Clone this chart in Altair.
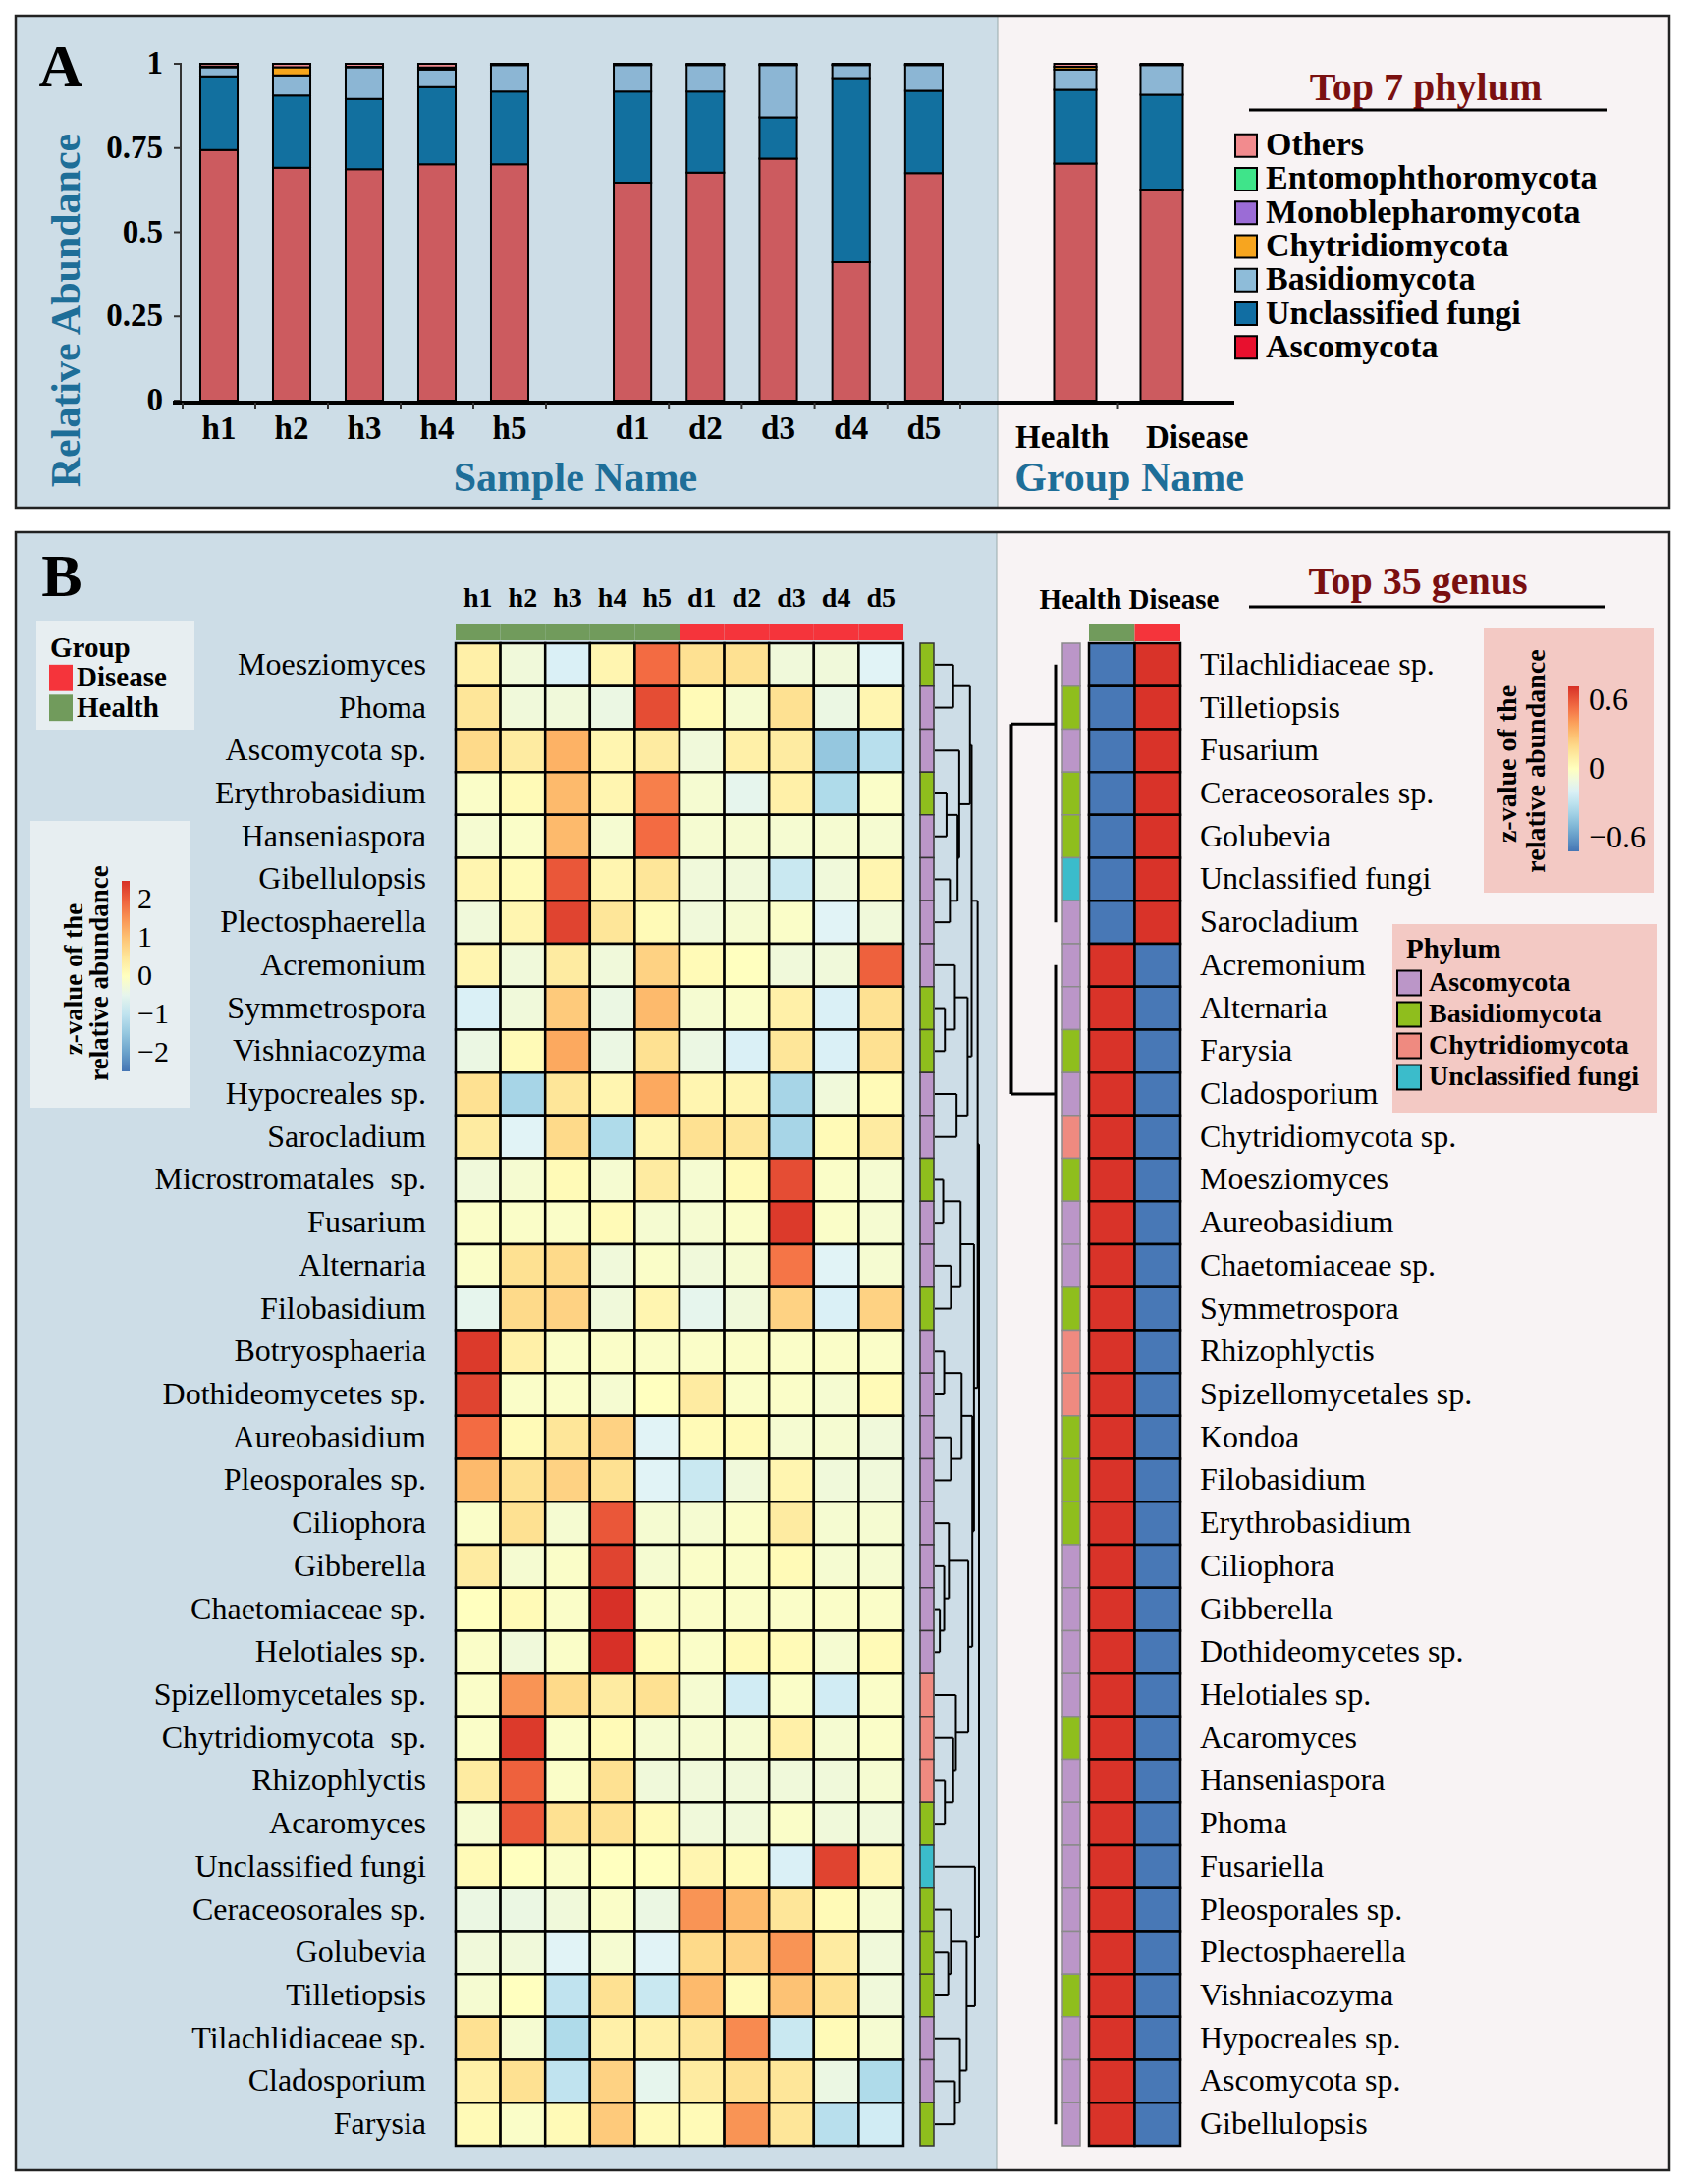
import altair as alt
import pandas as pd

SERIF = "Liberation Serif"
W, H = 1702, 2208


def P(v):
    # reference-page pixel -> canvas pixel (page has an 8px margin)
    return v - 8


# ======================= DATA: panel A =======================
samples_h = ["h1", "h2", "h3", "h4", "h5"]
samples_d = ["d1", "d2", "d3", "d4", "d5"]
groups = ["Health", "Disease"]
stack_phyla = ["Ascomycota", "Unclassified fungi", "Basidiomycota", "Chytridiomycota", "Others"]
bar_colors = ["#cc5b5f", "#12709f", "#8cb6d4", "#f6a51c", "#f08a8f"]

ascomycota_h = [0.744, 0.692, 0.687, 0.702, 0.702]
unclassified_h = [0.219, 0.214, 0.209, 0.229, 0.216]
basidiomycota_h = [0.027, 0.060, 0.094, 0.052, 0.078]
chytridiomycota_h = [0.002, 0.024, 0.001, 0.006, 0.001]
others_h = [0.008, 0.010, 0.009, 0.011, 0.003]

ascomycota_d = [0.647, 0.677, 0.719, 0.411, 0.676]
unclassified_d = [0.271, 0.241, 0.122, 0.547, 0.244]
basidiomycota_d = [0.078, 0.078, 0.155, 0.038, 0.076]
chytridiomycota_d = [0.001, 0.001, 0.001, 0.001, 0.001]
others_d = [0.003, 0.003, 0.003, 0.003, 0.003]

ascomycota_g = [0.704, 0.627]
unclassified_g = [0.219, 0.281]
basidiomycota_g = [0.060, 0.088]
chytridiomycota_g = [0.008, 0.001]
others_g = [0.009, 0.003]

y_ticks = [0, 0.25, 0.5, 0.75, 1]
y_tick_labels = ["0", "0.25", "0.5", "0.75", "1"]

legend7_names = ["Others", "Entomophthoromycota", "Monoblepharomycota", "Chytridiomycota",
                 "Basidiomycota", "Unclassified fungi", "Ascomycota"]
legend7_colors = ["#f28b8e", "#3fe48a", "#9b6cd6", "#f7a51f", "#8ebcd9", "#116ea3", "#e8102e"]

# ======================= DATA: panel B =======================
samples_all = ["h1", "h2", "h3", "h4", "h5", "d1", "d2", "d3", "d4", "d5"]
sample_group = ["Health", "Health", "Health", "Health", "Health",
                "Disease", "Disease", "Disease", "Disease", "Disease"]

genera_left = ["Moesziomyces", "Phoma", "Ascomycota sp.", "Erythrobasidium", "Hanseniaspora",
               "Gibellulopsis", "Plectosphaerella", "Acremonium", "Symmetrospora", "Vishniacozyma",
               "Hypocreales sp.", "Sarocladium", "Microstromatales\u00a0 sp.", "Fusarium", "Alternaria",
               "Filobasidium", "Botryosphaeria", "Dothideomycetes sp.", "Aureobasidium", "Pleosporales sp.",
               "Ciliophora", "Gibberella", "Chaetomiaceae sp.", "Helotiales sp.", "Spizellomycetales sp.",
               "Chytridiomycota\u00a0 sp.", "Rhizophlyctis", "Acaromyces", "Unclassified fungi",
               "Ceraceosorales sp.", "Golubevia", "Tilletiopsis", "Tilachlidiaceae sp.", "Cladosporium",
               "Farysia"]

phylum_left = ["Basidiomycota", "Ascomycota", "Ascomycota", "Basidiomycota", "Ascomycota",
               "Ascomycota", "Ascomycota", "Ascomycota", "Basidiomycota", "Basidiomycota",
               "Ascomycota", "Ascomycota", "Basidiomycota", "Ascomycota", "Ascomycota",
               "Basidiomycota", "Ascomycota", "Ascomycota", "Ascomycota", "Ascomycota",
               "Ascomycota", "Ascomycota", "Ascomycota", "Ascomycota", "Chytridiomycota",
               "Chytridiomycota", "Chytridiomycota", "Basidiomycota", "Unclassified fungi",
               "Basidiomycota", "Basidiomycota", "Basidiomycota", "Ascomycota", "Ascomycota",
               "Basidiomycota"]

# z-values, one row per genus (h1..h5, d1..d5)
z_left = [
    [0.3, -0.3, -0.7, 0.2, 1.9, 0.6, 0.6, -0.3, -0.3, -0.6],
    [0.5, -0.3, -0.3, -0.4, 2.2, 0.1, -0.2, 0.6, -0.4, 0.2],
    [0.7, 0.4, 1.2, 0.2, 0.4, -0.3, 0.3, 0.4, -1.5, -1.1],
    [-0.1, 0.1, 1.1, 0.2, 1.7, -0.2, -0.5, 0.3, -1.2, -0.1],
    [-0.2, -0.1, 1.1, -0.2, 1.9, -0.2, -0.2, -0.2, -0.2, -0.2],
    [0.2, 0.1, 2.1, 0.2, 0.5, -0.3, -0.3, -0.9, -0.3, 0.2],
    [-0.3, 0.2, 2.3, 0.5, 0.1, -0.3, -0.2, -0.1, -0.6, -0.3],
    [0.2, -0.3, 0.4, -0.3, 0.8, 0.1, 0.0, -0.3, -0.3, 2.0],
    [-0.7, -0.3, 0.9, -0.4, 1.1, -0.2, -0.1, 0.3, -0.7, 0.6],
    [-0.4, 0.1, 1.3, -0.4, 0.6, -0.4, -0.7, 0.5, -0.7, 0.6],
    [0.6, -1.3, 0.5, 0.2, 1.3, 0.2, 0.2, -1.3, -0.3, 0.1],
    [0.4, -0.6, 0.7, -1.2, 0.2, 0.6, 0.5, -1.3, 0.1, 0.4],
    [-0.3, -0.2, 0.1, -0.2, 0.4, -0.2, 0.1, 2.2, -0.1, -0.2],
    [-0.1, -0.1, -0.1, 0.1, -0.2, -0.2, -0.1, 2.4, -0.1, -0.2],
    [-0.1, 0.6, 0.7, -0.3, -0.1, -0.3, -0.2, 1.8, -0.6, -0.2],
    [-0.5, 0.7, 0.8, -0.3, 0.2, -0.5, -0.3, 0.8, -0.7, 0.8],
    [2.4, 0.3, -0.1, -0.1, -0.1, -0.1, -0.1, -0.1, -0.1, -0.1],
    [2.3, -0.1, -0.1, -0.2, 0.0, 0.4, -0.1, -0.1, -0.2, 0.1],
    [1.9, 0.1, 0.5, 0.8, -0.6, 0.1, 0.1, -0.2, -0.2, -0.3],
    [1.1, 0.6, 0.8, 0.6, -0.6, -0.9, -0.3, 0.2, -0.3, -0.3],
    [-0.1, 0.6, -0.2, 2.1, -0.2, -0.2, -0.1, 0.4, -0.2, -0.2],
    [0.4, -0.2, -0.1, 2.3, -0.2, -0.1, -0.1, 0.1, -0.2, -0.2],
    [0.0, 0.1, -0.1, 2.5, -0.1, -0.1, -0.1, -0.1, -0.1, -0.1],
    [-0.1, -0.3, -0.1, 2.5, 0.1, -0.1, 0.1, 0.1, -0.2, 0.1],
    [-0.1, 1.5, 0.7, 0.4, 0.6, -0.2, -0.8, -0.1, -0.8, -0.1],
    [-0.1, 2.4, -0.1, 0.1, -0.2, -0.2, -0.2, 0.3, -0.2, -0.1],
    [0.4, 2.0, -0.1, 0.6, -0.3, -0.3, -0.3, -0.3, -0.3, -0.2],
    [-0.2, 2.1, 0.6, 0.6, 0.1, -0.3, -0.3, -0.1, -0.3, -0.3],
    [0.1, 0.0, -0.1, 0.0, 0.0, 0.2, 0.1, -0.7, 2.3, 0.2],
    [-0.4, -0.4, -0.3, -0.1, -0.4, 1.5, 1.1, 0.5, 0.1, -0.2],
    [-0.3, -0.3, -0.6, -0.2, -0.6, 0.7, 0.8, 1.5, 0.4, -0.3],
    [-0.2, 0.0, -1.0, 0.6, -0.9, 1.1, 0.1, 1.0, 0.6, -0.3],
    [0.6, -0.2, -1.2, 0.3, 0.3, 0.5, 1.6, -0.9, 0.1, -0.2],
    [0.3, 0.6, -1.0, 0.8, -0.5, 0.4, 0.6, 0.5, -0.4, -1.2],
    [0.1, -0.1, 0.1, 0.9, 0.1, 0.1, 1.5, 0.5, -1.1, -0.8],
]

# row dendrogram (left heatmap): (child a, child b, merge height); leaves 0..34, merges 35..
dendro_left = [
    (0, 1, 55), (3, 4, 35), (5, 6, 45), (36, 37, 68), (2, 38, 73), (35, 39, 105),
    (8, 9, 30), (7, 41, 60), (10, 11, 65), (42, 43, 98), (40, 44, 110),
    (12, 13, 25), (14, 15, 48), (46, 47, 77),
    (16, 17, 28), (18, 19, 48), (49, 50, 80),
    (22, 23, 15), (21, 52, 28), (20, 53, 42),
    (26, 27, 30), (25, 55, 55), (24, 56, 63), (54, 57, 100), (51, 58, 112),
    (48, 59, 117), (45, 60, 128),
    (30, 31, 40), (29, 62, 48), (33, 34, 60), (32, 64, 75), (63, 65, 95), (28, 66, 120),
    (61, 67, 132),
]

genera_right = ["Tilachlidiaceae sp.", "Tilletiopsis", "Fusarium", "Ceraceosorales sp.", "Golubevia",
                "Unclassified fungi", "Sarocladium", "Acremonium", "Alternaria", "Farysia",
                "Cladosporium", "Chytridiomycota sp.", "Moesziomyces", "Aureobasidium",
                "Chaetomiaceae sp.", "Symmetrospora", "Rhizophlyctis", "Spizellomycetales sp.",
                "Kondoa", "Filobasidium", "Erythrobasidium", "Ciliophora", "Gibberella",
                "Dothideomycetes sp.", "Helotiales sp.", "Acaromyces", "Hanseniaspora", "Phoma",
                "Fusariella", "Pleosporales sp.", "Plectosphaerella", "Vishniacozyma",
                "Hypocreales sp.", "Ascomycota sp.", "Gibellulopsis"]

phylum_right = ["Ascomycota", "Basidiomycota", "Ascomycota", "Basidiomycota", "Basidiomycota",
                "Unclassified fungi", "Ascomycota", "Ascomycota", "Ascomycota", "Basidiomycota",
                "Ascomycota", "Chytridiomycota", "Basidiomycota", "Ascomycota", "Ascomycota",
                "Basidiomycota", "Chytridiomycota", "Chytridiomycota", "Basidiomycota",
                "Basidiomycota", "Basidiomycota", "Ascomycota", "Ascomycota", "Ascomycota",
                "Ascomycota", "Basidiomycota", "Ascomycota", "Ascomycota", "Ascomycota",
                "Ascomycota", "Ascomycota", "Basidiomycota", "Ascomycota", "Ascomycota",
                "Ascomycota"]

z_health = [-0.71, -0.71, -0.71, -0.71, -0.71, -0.71, -0.71,
            0.71, 0.71, 0.71, 0.71, 0.71, 0.71, 0.71, 0.71, 0.71, 0.71, 0.71, 0.71, 0.71, 0.71,
            0.71, 0.71, 0.71, 0.71, 0.71, 0.71, 0.71, 0.71, 0.71, 0.71, 0.71, 0.71, 0.71, 0.71]
z_disease = [0.71, 0.71, 0.71, 0.71, 0.71, 0.71, 0.71,
             -0.71, -0.71, -0.71, -0.71, -0.71, -0.71, -0.71, -0.71, -0.71, -0.71, -0.71, -0.71,
             -0.71, -0.71, -0.71, -0.71, -0.71, -0.71, -0.71, -0.71, -0.71, -0.71, -0.71, -0.71,
             -0.71, -0.71, -0.71, -0.71]

# right dendrogram: two clusters (first row, last row, row position where they join)
right_first = [0, 7]
right_last = [6, 34]
right_join = [1.88, 10.5]

phyla4 = ["Ascomycota", "Basidiomycota", "Chytridiomycota", "Unclassified fungi"]
phyla4_colors = ["#bb96c8", "#8fbe1d", "#ef8a80", "#3bbccb"]

heat_colors = ["#4575b4", "#74add1", "#abd9e9", "#e0f3f8", "#ffffbf",
               "#fee090", "#fdae61", "#f46d43", "#d73027"]
heat_stops_left = [-2.5, -1.875, -1.25, -0.625, 0, 0.625, 1.25, 1.875, 2.5]
heat_stops_right = [-0.72, -0.54, -0.36, -0.18, 0, 0.18, 0.36, 0.54, 0.72]

GREEN = "#719b5c"
RED = "#f5343b"
BLUE_BG = "#cddde7"
PINK_BG = "#f8f3f4"
TITLE_BLUE = "#1e6e98"
DARK_RED = "#7a1010"
LEG_BG = "#e7eef1"
LEG_PINK = "#f3c9c4"

# ======================= helpers =======================
one = pd.DataFrame({"k": [0]})


def rect(x1, y1, x2, y2, fill, stroke=None, sw=0):
    kw = dict(fill=fill)
    if stroke:
        kw.update(stroke=stroke, strokeWidth=sw)
    return alt.Chart(one).mark_rect(**kw).encode(
        x=alt.value(P(x1)), x2=alt.value(P(x2)), y=alt.value(P(y1)), y2=alt.value(P(y2)))


def line(x1, y1, x2, y2, color="black", w=2):
    return alt.Chart(one).mark_rule(color=color, strokeWidth=w).encode(
        x=alt.value(P(x1)), x2=alt.value(P(x2)), y=alt.value(P(y1)), y2=alt.value(P(y2)))


def text(s, x, y, size, weight="normal", color="black", align="center",
         baseline="middle", angle=0):
    kw = dict(font=SERIF, fontSize=size, fontWeight=weight, color=color,
              align=align, baseline=baseline)
    if angle:
        kw["angle"] = angle
    return alt.Chart(pd.DataFrame({"t": [s]})).mark_text(**kw).encode(
        x=alt.value(P(x)), y=alt.value(P(y)), text="t:N")


layers = []

# ======================= PANEL A =======================
layers += [
    rect(16, 16, 1700, 517, PINK_BG),
    rect(16, 16, 1016, 517, BLUE_BG),
    line(1016, 16, 1016, 517, "#9aa", 1),
]


def stack_df(names, cols):
    rows = []
    for i, n in enumerate(names):
        for j, (ph, vals) in enumerate(zip(stack_phyla, cols)):
            rows.append({"sample": n, "phylum": ph, "value": vals[i], "ord": j})
    return pd.DataFrame(rows)


ysc_a = alt.Scale(domain=[0, 1], range=[P(408), P(65)], nice=False, zero=True)


def bars(df, domain, rng, pi):
    xs = alt.Scale(domain=domain, range=rng, paddingInner=pi, paddingOuter=pi / 2)
    return alt.Chart(df).mark_bar(stroke="black", strokeWidth=2).encode(
        x=alt.X("sample:N", scale=xs, axis=None),
        y=alt.Y("value:Q", stack="zero", scale=ysc_a, axis=None),
        color=alt.Color("phylum:N", scale=alt.Scale(domain=stack_phyla, range=bar_colors), legend=None),
        order=alt.Order("ord:Q"),
    ), xs


df_h = stack_df(samples_h, [ascomycota_h, unclassified_h, basidiomycota_h, chytridiomycota_h, others_h])
df_d = stack_df(samples_d, [ascomycota_d, unclassified_d, basidiomycota_d, chytridiomycota_d, others_d])
df_g = stack_df(groups, [ascomycota_g, unclassified_g, basidiomycota_g, chytridiomycota_g, others_g])

bh, xs_h = bars(df_h, samples_h, [P(186), P(556)], 0.486)
bd, xs_d = bars(df_d, samples_d, [P(607), P(978)], 0.486)
bg, xs_g = bars(df_g, groups, [P(1051), P(1227)], 0.511)
layers += [bh, bd, bg]

# y axis
df_ticks = pd.DataFrame({"v": y_ticks, "lab": y_tick_labels})
layers += [
    alt.Chart(pd.DataFrame({"a": [0], "b": [1]})).mark_rule(color="#333", strokeWidth=2).encode(
        y=alt.Y("a:Q", scale=ysc_a, axis=None), y2="b:Q", x=alt.value(P(184))),
    alt.Chart(df_ticks).mark_rule(color="#333", strokeWidth=2).encode(
        y=alt.Y("v:Q", scale=ysc_a, axis=None), x=alt.value(P(177)), x2=alt.value(P(185))),
    alt.Chart(df_ticks).mark_text(font=SERIF, fontSize=33, fontWeight="bold", align="right",
                                  baseline="middle").encode(
        y=alt.Y("v:Q", scale=ysc_a, axis=None), x=alt.value(P(166)), text="lab:N"),
    line(176, 410, 1257, 410, "black", 4),
    line(186, 410, 186, 416, "#333", 2),
]

# small category-boundary ticks under the x baseline
for names, xs, off in [(samples_h, xs_h, 18), (samples_d, xs_d, 18), (groups[:1], xs_g, 22)]:
    layers.append(
        alt.Chart(pd.DataFrame({"sample": names})).mark_rule(
            color="#333", strokeWidth=2, xOffset=off).encode(
            x=alt.X("sample:N", scale=xs, axis=None, bandPosition=1),
            y=alt.value(P(410)), y2=alt.value(P(416))))

# x labels
for names, xs in [(samples_h, xs_h), (samples_d, xs_d)]:
    layers.append(
        alt.Chart(pd.DataFrame({"sample": names})).mark_text(
            font=SERIF, fontSize=33, fontWeight="bold", baseline="middle").encode(
            x=alt.X("sample:N", scale=xs, axis=None), y=alt.value(P(437)), text="sample:N"))
layers.append(
    alt.Chart(pd.DataFrame({"sample": groups})).mark_text(
        font=SERIF, fontSize=33, fontWeight="bold", baseline="middle").encode(
        x=alt.X("sample:N", scale=alt.Scale(domain=groups, range=[P(1013), P(1288)],
                                            paddingInner=0, paddingOuter=0), axis=None),
        y=alt.value(P(446)), text="sample:N"))

layers += [
    text("A", 62, 69, 62, "bold"),
    text("Relative Abundance", 68, 316, 42, "bold", TITLE_BLUE, angle=270),
    text("Sample Name", 586, 487, 42, "bold", TITLE_BLUE),
    text("Group Name", 1150, 487, 42, "bold", TITLE_BLUE),
    text("Top 7 phylum", 1452, 102, 40, "bold", DARK_RED, baseline="alphabetic"),
    line(1272, 112, 1637, 112, "black", 3),
]

# Top 7 legend
leg7 = pd.DataFrame({"name": legend7_names})
ys_leg7 = alt.Scale(domain=legend7_names, range=[P(131), P(371)], paddingInner=0.33, paddingOuter=0.165)
layers += [
    alt.Chart(leg7).mark_rect(stroke="black", strokeWidth=2).encode(
        y=alt.Y("name:N", scale=ys_leg7, axis=None), x=alt.value(P(1258)), x2=alt.value(P(1280)),
        fill=alt.Fill("name:N", scale=alt.Scale(domain=legend7_names, range=legend7_colors), legend=None)),
    alt.Chart(leg7).mark_text(font=SERIF, fontSize=34, fontWeight="bold", align="left",
                              baseline="middle").encode(
        y=alt.Y("name:N", scale=ys_leg7, axis=None), x=alt.value(P(1289)), text="name:N"),
]

layers.append(rect(16, 16, 1700, 517, "transparent", "#222", 2.5))

# ======================= PANEL B =======================
layers += [
    rect(16, 542, 1700, 2210, PINK_BG),
    rect(16, 542, 1015, 2210, BLUE_BG),
    line(1015, 542, 1015, 2210, "#9aa", 1),
    text("B", 63, 588, 62, "bold"),
]

# --- left heatmap ---
xs_l = alt.Scale(domain=samples_all, range=[P(464), P(920)], paddingInner=0, paddingOuter=0)
ys_l = alt.Scale(domain=genera_left, range=[P(655), P(2185)], paddingInner=0, paddingOuter=0)
df_left = pd.DataFrame([{"genus": g, "sample": s, "z": z_left[i][j]}
                        for i, g in enumerate(genera_left) for j, s in enumerate(samples_all)])

layers.append(
    alt.Chart(df_left).mark_rect(stroke="black", strokeWidth=2.5).encode(
        x=alt.X("sample:N", scale=xs_l, axis=None),
        y=alt.Y("genus:N", scale=ys_l, axis=None),
        color=alt.Color("z:Q", scale=alt.Scale(domain=heat_stops_left, range=heat_colors,
                                               interpolate="rgb", clamp=True),
                        legend=alt.Legend(orient="none", legendX=P(124), legendY=P(897),
                                          direction="vertical", title=None,
                                          gradientLength=194, gradientThickness=8,
                                          gradientStrokeWidth=0, values=[-2, -1, 0, 1, 2],
                                          labelFont=SERIF, labelFontSize=30, labelColor="black",
                                          labelOverlap=False, labelOffset=8))))

df_samp = pd.DataFrame({"sample": samples_all, "group": sample_group})
layers += [
    alt.Chart(df_samp).mark_rect().encode(
        x=alt.X("sample:N", scale=xs_l, axis=None), y=alt.value(P(635)), y2=alt.value(P(652)),
        fill=alt.Fill("group:N", scale=alt.Scale(domain=groups, range=[GREEN, RED]), legend=None)),
    alt.Chart(df_samp).mark_text(font=SERIF, fontSize=28, fontWeight="bold", baseline="middle").encode(
        x=alt.X("sample:N", scale=xs_l, axis=None), y=alt.value(P(610)), text="sample:N"),
]

df_gl = pd.DataFrame({"genus": genera_left, "phylum": phylum_left})
layers += [
    alt.Chart(df_gl).mark_text(font=SERIF, fontSize=32, align="right", baseline="middle").encode(
        y=alt.Y("genus:N", scale=ys_l, axis=None), x=alt.value(P(434)), text="genus:N"),
    alt.Chart(df_gl).mark_rect(stroke="#333", strokeWidth=1.5).encode(
        y=alt.Y("genus:N", scale=ys_l, axis=None), x=alt.value(P(937)), x2=alt.value(P(951)),
        fill=alt.Fill("phylum:N", scale=alt.Scale(domain=phyla4, range=phyla4_colors), legend=None)),
]

# left dendrogram built from the merge table
pos = {i: i + 0.5 for i in range(len(genera_left))}
hgt = {i: 0 for i in range(len(genera_left))}
segs = []
for k, (a, b, h) in enumerate(dendro_left):
    nid = len(genera_left) + k
    pa, pb = pos[a], pos[b]
    segs.append({"x": hgt[a], "x2": h, "y": pa, "y2": pa})
    segs.append({"x": hgt[b], "x2": h, "y": pb, "y2": pb})
    segs.append({"x": h, "x2": h, "y": pa, "y2": pb})
    pos[nid] = (pa + pb) / 2
    hgt[nid] = h
df_seg = pd.DataFrame(segs)
yrow = alt.Scale(domain=[0, 35], range=[P(655), P(2185)], nice=False, zero=False)
layers.append(
    alt.Chart(df_seg).mark_rule(color="black", strokeWidth=2).encode(
        x=alt.X("x:Q", scale=alt.Scale(domain=[0, 132], range=[P(952), P(997)], nice=False, zero=False),
                axis=None),
        x2="x2:Q",
        y=alt.Y("y:Q", scale=yrow, axis=None), y2="y2:Q"))

# group legend
layers += [
    rect(37, 632, 198, 743, LEG_BG),
    text("Group", 51, 660, 29, "bold", align="left"),
]
grp_leg = ["Disease", "Health"]
ys_grp = alt.Scale(domain=grp_leg, range=[P(675), P(736)], paddingInner=0.12, paddingOuter=0.06)
df_grp = pd.DataFrame({"g": grp_leg})
layers += [
    alt.Chart(df_grp).mark_rect().encode(
        y=alt.Y("g:N", scale=ys_grp, axis=None), x=alt.value(P(50)), x2=alt.value(P(74)),
        fill=alt.Fill("g:N", scale=alt.Scale(domain=grp_leg, range=[RED, GREEN]), legend=None)),
    alt.Chart(df_grp).mark_text(font=SERIF, fontSize=29, fontWeight="bold", align="left",
                                baseline="middle").encode(
        y=alt.Y("g:N", scale=ys_grp, axis=None), x=alt.value(P(78)), text="g:N"),
]

# colour bar legend box (left) – gradient comes from the heatmap legend
layers += [
    rect(31, 836, 193, 1128, LEG_BG),
    text("z-value of the", 76, 997, 27, "bold", angle=270),
    text("relative abundance", 102, 991, 27, "bold", angle=270),
]

# --- right heatmap ---
xs_r = alt.Scale(domain=groups, range=[P(1109), P(1202)], paddingInner=0, paddingOuter=0)
ys_r = alt.Scale(domain=genera_right, range=[P(655), P(2185)], paddingInner=0, paddingOuter=0)
df_right = pd.DataFrame(
    [{"genus": g, "group": "Health", "z": z_health[i]} for i, g in enumerate(genera_right)] +
    [{"genus": g, "group": "Disease", "z": z_disease[i]} for i, g in enumerate(genera_right)])

layers += [
    rect(1511, 639, 1684, 909, LEG_PINK),
    rect(1418, 941, 1687, 1133, LEG_PINK),
]

layers.append(
    alt.Chart(df_right).mark_rect(stroke="black", strokeWidth=2.5).encode(
        x=alt.X("group:N", scale=xs_r, axis=None),
        y=alt.Y("genus:N", scale=ys_r, axis=None),
        color=alt.Color("z:Q", scale=alt.Scale(domain=heat_stops_right, range=heat_colors,
                                               interpolate="rgb", clamp=True),
                        legend=alt.Legend(orient="none", legendX=P(1597), legendY=P(699),
                                          direction="vertical", title=None,
                                          gradientLength=168, gradientThickness=11,
                                          gradientStrokeWidth=0, values=[-0.6, 0, 0.6],
                                          format="~g", labelFont=SERIF, labelFontSize=32,
                                          labelColor="black", labelOverlap=False,
                                          labelOffset=10))))

df_grp_r = pd.DataFrame({"group": groups})
df_gr = pd.DataFrame({"genus": genera_right, "phylum": phylum_right})
layers += [
    alt.Chart(df_grp_r).mark_rect().encode(
        x=alt.X("group:N", scale=xs_r, axis=None), y=alt.value(P(635)), y2=alt.value(P(653)),
        fill=alt.Fill("group:N", scale=alt.Scale(domain=groups, range=[GREEN, RED]), legend=None)),
    alt.Chart(df_gr).mark_text(font=SERIF, fontSize=32, align="left", baseline="middle").encode(
        y=alt.Y("genus:N", scale=ys_r, axis=None), x=alt.value(P(1222)), text="genus:N"),
    alt.Chart(df_gr).mark_rect(stroke="#8a8a8a", strokeWidth=1.5).encode(
        y=alt.Y("genus:N", scale=ys_r, axis=None), x=alt.value(P(1082)), x2=alt.value(P(1100)),
        fill=alt.Fill("phylum:N", scale=alt.Scale(domain=phyla4, range=phyla4_colors), legend=None)),
]

# right dendrogram
rsegs = []
for f, l, j in zip(right_first, right_last, right_join):
    rsegs.append({"x": 0, "x2": 0, "y": f + 0.5, "y2": l + 0.5})
    rsegs.append({"x": 0, "x2": 1, "y": j, "y2": j})
rsegs.append({"x": 1, "x2": 1, "y": right_join[0], "y2": right_join[1]})
layers.append(
    alt.Chart(pd.DataFrame(rsegs)).mark_rule(color="black", strokeWidth=3).encode(
        x=alt.X("x:Q", scale=alt.Scale(domain=[0, 1], range=[P(1075), P(1030)], nice=False, zero=False),
                axis=None),
        x2="x2:Q",
        y=alt.Y("y:Q", scale=yrow, axis=None), y2="y2:Q"))

layers += [
    text("Health Disease", 1150, 611, 29, "bold"),
    text("Top 35 genus", 1444, 605, 40, "bold", DARK_RED, baseline="alphabetic"),
    line(1272, 618, 1635, 618, "black", 3),
    text("z-value of the", 1536, 778, 28, "bold", angle=270),
    text("relative abundance", 1565, 775, 28, "bold", angle=270),
    text("Phylum", 1432, 967, 29, "bold", align="left"),
]

ys_ph = alt.Scale(domain=phyla4, range=[P(985), P(1113)], paddingInner=0.22, paddingOuter=0.11)
df_ph = pd.DataFrame({"p": phyla4})
layers += [
    alt.Chart(df_ph).mark_rect(stroke="black", strokeWidth=2).encode(
        y=alt.Y("p:N", scale=ys_ph, axis=None), x=alt.value(P(1423)), x2=alt.value(P(1447)),
        fill=alt.Fill("p:N", scale=alt.Scale(domain=phyla4, range=phyla4_colors), legend=None)),
    alt.Chart(df_ph).mark_text(font=SERIF, fontSize=28, fontWeight="bold", align="left",
                               baseline="middle").encode(
        y=alt.Y("p:N", scale=ys_ph, axis=None), x=alt.value(P(1455)), text="p:N"),
]

layers.append(rect(16, 542, 1700, 2210, "transparent", "#222", 2.5))

chart = alt.layer(*layers).resolve_scale(
    x="independent", y="independent", color="independent", fill="independent"
).properties(
    width=W, height=H, autosize=alt.AutoSizeParams(type="none"), padding=0, background="white"
).configure_view(stroke=None)

chart.save("out.html", embed_options={"renderer": "svg", "actions": False})
